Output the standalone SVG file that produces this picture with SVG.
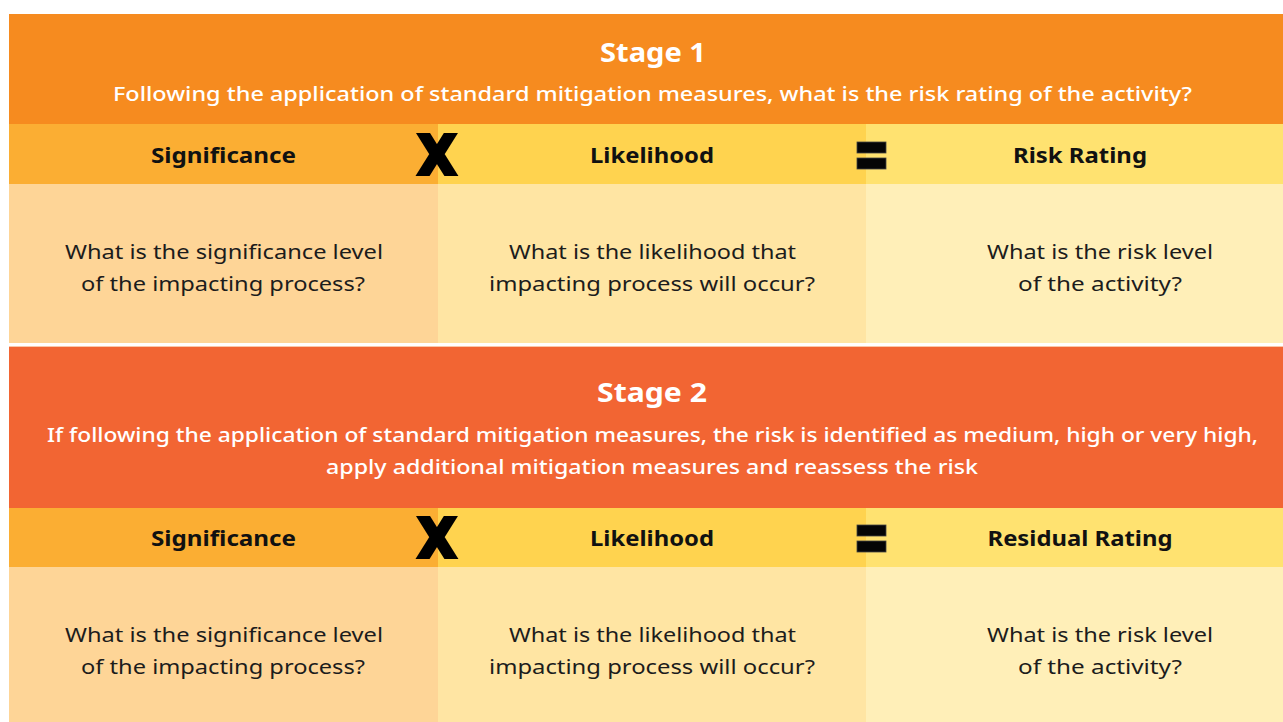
<svg xmlns="http://www.w3.org/2000/svg" width="1283" height="722" viewBox="0 0 1283 722">
  <style>
    .title { font-family: "Noto Sans", "Open Sans", "Liberation Sans", sans-serif; font-weight: 700; font-size: 27px; fill: #ffffff; text-anchor: middle; }
    .sub { font-family: "Noto Sans", "Open Sans", "Liberation Sans", sans-serif; font-weight: 500; font-size: 20px; fill: #ffffff; text-anchor: middle; }
    .head { font-family: "Noto Sans", "Open Sans", "Liberation Sans", sans-serif; font-weight: 700; font-size: 21px; fill: #111111; text-anchor: middle; }
    .body { font-family: "Noto Sans", "Open Sans", "Liberation Sans", sans-serif; font-weight: 400; font-size: 20.5px; fill: #1c1c1c; text-anchor: middle; }
    .op { font-family: "DejaVu Sans", "Liberation Sans", sans-serif; font-weight: 700; font-size: 54px; fill: #000000; stroke: #000000; stroke-width: 4; stroke-linejoin: miter; text-anchor: middle; }
    .eq { fill: #050505; stroke: #444444; stroke-width: 0.8; }
    .s1 { fill: #F68B1F; }
    .s2 { fill: #F26533; }
    .h1 { fill: #FBAE33; }
    .h2 { fill: #FFD34F; }
    .h3 { fill: #FFE270; }
    .b1 { fill: #FED597; }
    .b2 { fill: #FFE5A3; }
    .b3 { fill: #FFEFB8; }
  </style>
  <rect width="1283" height="722" fill="#ffffff"/>

  <!-- Stage 1 -->
  <g id="stage1-header">
    <rect class="s1" x="9" y="14" width="1274" height="110"/>
    <text class="title" x="653" y="62" textLength="106" lengthAdjust="spacingAndGlyphs">Stage 1</text>
    <text class="sub" x="652.5" y="101" textLength="1079" lengthAdjust="spacingAndGlyphs">Following the application of standard mitigation measures, what is the risk rating of the activity?</text>
  </g>
  <g id="stage1-significance">
    <rect class="h1" x="9" y="124" width="429" height="60"/>
    <rect class="b1" x="9" y="184" width="429" height="159"/>
    <text class="head" x="223.5" y="163" textLength="145" lengthAdjust="spacingAndGlyphs">Significance</text>
    <text class="body" x="224" y="259" textLength="318" lengthAdjust="spacingAndGlyphs">What is the significance level</text>
    <text class="body" x="223" y="291" textLength="284" lengthAdjust="spacingAndGlyphs">of the impacting process?</text>
  </g>
  <g id="stage1-likelihood">
    <rect class="h2" x="438" y="124" width="428" height="60"/>
    <rect class="b2" x="438" y="184" width="428" height="159"/>
    <text class="head" x="652" y="163" textLength="124" lengthAdjust="spacingAndGlyphs">Likelihood</text>
    <text class="body" x="652.5" y="259" textLength="287" lengthAdjust="spacingAndGlyphs">What is the likelihood that</text>
    <text class="body" x="652" y="291" textLength="326" lengthAdjust="spacingAndGlyphs">impacting process will occur?</text>
  </g>
  <g id="stage1-risk-rating">
    <rect class="h3" x="866" y="124" width="417" height="60"/>
    <rect class="b3" x="866" y="184" width="417" height="159"/>
    <text class="head" x="1080" y="163" textLength="134" lengthAdjust="spacingAndGlyphs">Risk Rating</text>
    <text class="body" x="1100" y="259" textLength="226" lengthAdjust="spacingAndGlyphs">What is the risk level</text>
    <text class="body" x="1100" y="291" textLength="164" lengthAdjust="spacingAndGlyphs">of the activity?</text>
  </g>

  <!-- Stage 2 -->
  <g id="stage2-header">
    <rect class="s2" x="9" y="347" width="1274" height="161"/>
    <rect x="9" y="346" width="1274" height="1" fill="#FAC7A8"/>
    <text class="title" x="652" y="402" textLength="110" lengthAdjust="spacingAndGlyphs">Stage 2</text>
    <text class="sub" x="652.5" y="442" textLength="1211" lengthAdjust="spacingAndGlyphs">If following the application of standard mitigation measures, the risk is identified as medium, high or very high,</text>
    <text class="sub" x="652" y="474" textLength="652" lengthAdjust="spacingAndGlyphs">apply additional mitigation measures and reassess the risk</text>
  </g>
  <g id="stage2-significance">
    <rect class="h1" x="9" y="508" width="429" height="59"/>
    <rect class="b1" x="9" y="567" width="429" height="155"/>
    <text class="head" x="223.5" y="546" textLength="145" lengthAdjust="spacingAndGlyphs">Significance</text>
    <text class="body" x="224" y="642" textLength="318" lengthAdjust="spacingAndGlyphs">What is the significance level</text>
    <text class="body" x="223" y="674" textLength="284" lengthAdjust="spacingAndGlyphs">of the impacting process?</text>
  </g>
  <g id="stage2-likelihood">
    <rect class="h2" x="438" y="508" width="428" height="59"/>
    <rect class="b2" x="438" y="567" width="428" height="155"/>
    <text class="head" x="652" y="546" textLength="124" lengthAdjust="spacingAndGlyphs">Likelihood</text>
    <text class="body" x="652.5" y="642" textLength="287" lengthAdjust="spacingAndGlyphs">What is the likelihood that</text>
    <text class="body" x="652" y="674" textLength="326" lengthAdjust="spacingAndGlyphs">impacting process will occur?</text>
  </g>
  <g id="stage2-residual-rating">
    <rect class="h3" x="866" y="508" width="417" height="59"/>
    <rect class="b3" x="866" y="567" width="417" height="155"/>
    <text class="head" x="1080" y="546" textLength="185" lengthAdjust="spacingAndGlyphs">Residual Rating</text>
    <text class="body" x="1100" y="642" textLength="226" lengthAdjust="spacingAndGlyphs">What is the risk level</text>
    <text class="body" x="1100" y="674" textLength="164" lengthAdjust="spacingAndGlyphs">of the activity?</text>
  </g>

  <!-- operators between columns -->
  <g id="connectors">
    <text class="op" x="437" y="174" textLength="38" lengthAdjust="spacingAndGlyphs">X</text>
    <rect class="eq" x="857" y="142" width="29" height="11"/>
    <rect class="eq" x="857" y="158" width="29" height="11"/>
    <text class="op" x="437" y="557" textLength="38" lengthAdjust="spacingAndGlyphs">X</text>
    <rect class="eq" x="857" y="525" width="29" height="11"/>
    <rect class="eq" x="857" y="541" width="29" height="11"/>
  </g>
</svg>
